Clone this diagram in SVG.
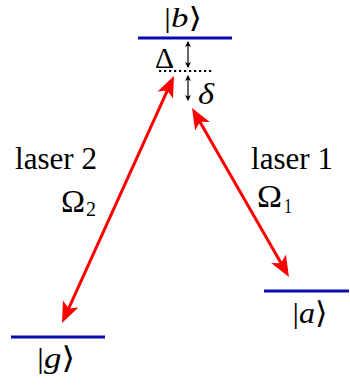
<svg xmlns="http://www.w3.org/2000/svg" width="350" height="385" viewBox="0 0 350 385">
<style>
.lvl{stroke:#0a0ab4;stroke-width:3;fill:none}
.t{font-family:"Liberation Serif","Times New Roman",serif;font-size:31px;fill:#000}
.k{font-size:30px}
.kb{font-size:28px}
.s{font-size:21px}
.i{font-style:italic}
.br{font-family:"DejaVu Serif",serif;font-weight:200}
.laser{stroke:#ff0000;stroke-width:3;fill:none;marker-start:url(#rh);marker-end:url(#rh)}
.small{stroke:#000;stroke-width:1.2;fill:none;marker-start:url(#bh);marker-end:url(#bh)}
</style>
<defs>
<marker id="rh" markerUnits="userSpaceOnUse" viewBox="-10 -10 24 20" refX="0" refY="0" markerWidth="24" markerHeight="20" orient="auto-start-reverse" overflow="visible">
<path d="M12,0 L-9,-8.5 L-4,0 L-9,8.5 Z" fill="#ff0000"/>
</marker>
<marker id="bh" markerUnits="userSpaceOnUse" viewBox="-6 -4 8 8" refX="0" refY="0" markerWidth="8" markerHeight="8" orient="auto-start-reverse" overflow="visible">
<path d="M1,0 L-5,-3 L-3.5,0 L-5,3 Z" fill="#000"/>
</marker>
</defs>
<g id="level-b">
<line class="lvl" x1="138" y1="38" x2="232" y2="38"/>
<text class="t kb" x="183" y="27" text-anchor="middle" textLength="38" lengthAdjust="spacingAndGlyphs">|<tspan class="i">b</tspan><tspan class="br">⟩</tspan></text>
</g>
<g id="virtual-level">
<line x1="159" y1="71" x2="213" y2="71" stroke="#000" stroke-width="2.2" stroke-dasharray="2.2 2.8"/>
<text class="t k" x="155" y="68" textLength="19" lengthAdjust="spacingAndGlyphs">Δ</text>
<text class="t k i" x="198" y="104" textLength="16" lengthAdjust="spacingAndGlyphs">δ</text>
</g>
<g id="level-g">
<line class="lvl" x1="11" y1="337" x2="105" y2="337"/>
<text class="t k" x="56" y="368" text-anchor="middle" textLength="38" lengthAdjust="spacingAndGlyphs">|<tspan class="i">g</tspan><tspan class="br">⟩</tspan></text>
</g>
<g id="level-a">
<line class="lvl" x1="264" y1="291" x2="349" y2="291"/>
<text class="t k" x="310" y="323" text-anchor="middle" textLength="35" lengthAdjust="spacingAndGlyphs">|<tspan class="i">a</tspan><tspan class="br">⟩</tspan></text>
</g>
<g id="label-laser2">
<text class="t" x="15" y="169" textLength="82" lengthAdjust="spacingAndGlyphs">laser 2</text>
<text class="t" x="61" y="212" textLength="24" lengthAdjust="spacingAndGlyphs">Ω</text>
<text class="t s" x="86" y="216" textLength="10" lengthAdjust="spacingAndGlyphs">2</text>
</g>
<g id="label-laser1">
<text class="t" x="251" y="169" textLength="82" lengthAdjust="spacingAndGlyphs">laser 1</text>
<text class="t" x="257" y="207" textLength="25" lengthAdjust="spacingAndGlyphs">Ω</text>
<text class="t s" x="284" y="213" textLength="8" lengthAdjust="spacingAndGlyphs">1</text>
</g>
<g id="connectors">
<line class="laser" x1="169" y1="86.9" x2="67" y2="312.1"/>
<line class="laser" x1="198" y1="118.4" x2="283" y2="266.6"/>
<line class="small" x1="188" y1="42" x2="188" y2="67"/>
<line class="small" x1="188" y1="76" x2="188" y2="100"/>
</g>
</svg>
